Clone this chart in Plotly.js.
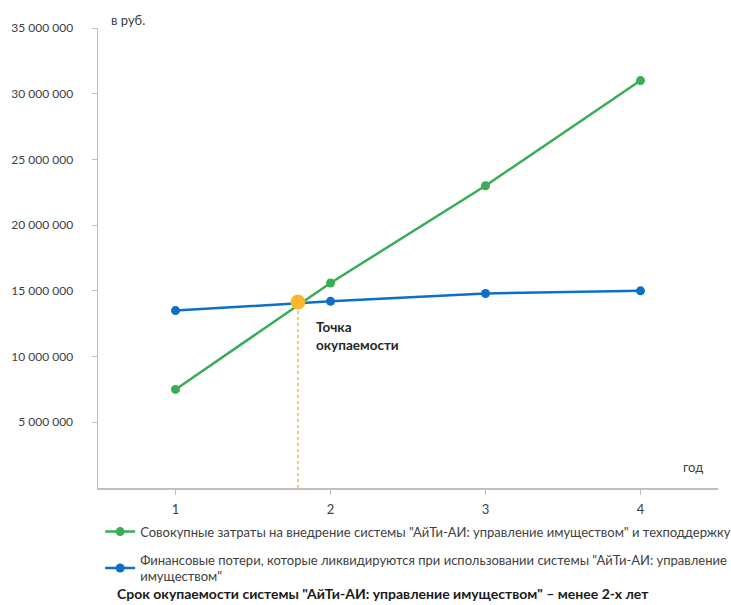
<!DOCTYPE html>
<html>
<head>
<meta charset="utf-8">
<script src="https://cdn.plot.ly/plotly-3.0.1.min.js"></script>
<style>html,body{margin:0;padding:0;background:#fff;}#chart{width:731px;height:605px;}</style>
</head>
<body>
<div id="chart"></div>
<script>
const years = [1, 2, 3, 4];
const yearLabels = ["1", "2", "3", "4"];
const totalCosts = [7500000, 15600000, 23000000, 31000000];
const financialLosses = [13500000, 14200000, 14800000, 15000000];
const breakEvenX = [1.79];
const breakEvenY = [14150000];
const yTickVals = [5000000, 10000000, 15000000, 20000000, 25000000, 30000000, 35000000];

const seriesNames = [
  "Совокупные затраты на внедрение системы \"АйТи-АИ: управление имуществом\" и техподдержку",
  "Финансовые потери, которые ликвидируются при использовании системы \"АйТи-АИ: управление<br>имуществом\""
];
const labelBreakEven = "<b>Точка<br>окупаемости</b>";
const labelY = "в руб.";
const labelX = "год";
const footer = "<b>Срок окупаемости системы \"АйТи-АИ: управление имуществом\" – менее 2-х лет</b>";

const FONT = "Lato, 'Open Sans', sans-serif";
const green = "#3aac55";
const blue = "#0e70c4";
const orange = "#fbb72c";

const traces = [
  {x: years, y: totalCosts, name: seriesNames[0], legendgroup: "a", mode: "lines+markers", type: "scatter",
   line: {color: green, width: 2.5}, marker: {color: green, size: 9}},
  {x: years, y: financialLosses, name: seriesNames[1], legendgroup: "b", mode: "lines+markers", type: "scatter",
   line: {color: blue, width: 2.5}, marker: {color: blue, size: 9}},
  {x: breakEvenX, y: breakEvenY, mode: "markers", type: "scatter", showlegend: false, hoverinfo: "skip",
   marker: {color: orange, size: 15, symbol: "circle"}}
];

const layout = {
  width: 731, height: 605,
  margin: {l: 98, r: 13, t: 28, b: 117, autoexpand: false},
  paper_bgcolor: "#fff", plot_bgcolor: "#fff",
  separators: ". ",
  font: {family: FONT, size: 11, color: "#404040"},
  showlegend: true,
  legend: {xref: "container", yref: "container", x: 0.137, xanchor: "left", y: 0.146, yanchor: "top",
           orientation: "v", traceorder: "grouped",
           font: {family: FONT, size: 13, color: "#404040"}, tracegroupgap: 8, bgcolor: "rgba(0,0,0,0)"},
  xaxis: {range: [0.5, 4.5], tickvals: years, ticktext: yearLabels, showgrid: false, zeroline: false,
          showline: true, linecolor: "#bfbfbf", linewidth: 1.5, ticks: "outside", ticklen: 5,
          tickcolor: "#bfbfbf", ticklabelstandoff: 4, tickfont: {family: FONT, size: 13, color: "#404040"}},
  yaxis: {range: [0, 35000000], tickvals: yTickVals, tickformat: ",.0f", showgrid: false, zeroline: false,
          showline: true, linecolor: "#bfbfbf", linewidth: 1.5, ticks: "outside", ticklen: 5,
          tickcolor: "#bfbfbf", ticklabelstandoff: 16, tickfont: {family: FONT, size: 12, color: "#404040"}},
  shapes: [
    {type: "line", xref: "x", yref: "y", x0: breakEvenX[0], x1: breakEvenX[0], y0: 0, y1: breakEvenY[0],
     line: {color: orange, width: 1.5, dash: "dot"}, layer: "below"}
  ],
  annotations: [
    {xref: "x", yref: "y", x: breakEvenX[0], y: breakEvenY[0], text: labelBreakEven, showarrow: false,
     xanchor: "left", yanchor: "top", xshift: 16, yshift: -15, align: "left",
     font: {family: FONT, size: 13.5, color: "#262626"}},
    {xref: "paper", yref: "paper", x: 0.018, y: 1.0, text: labelY, showarrow: false,
     xanchor: "left", yanchor: "bottom", yshift: -2, font: {family: FONT, size: 13, color: "#404040"}},
    {xref: "paper", yref: "paper", x: 0.979, y: 0.046, text: labelX, showarrow: false,
     xanchor: "right", yanchor: "middle", font: {family: FONT, size: 13, color: "#404040"}},
    {xref: "paper", yref: "paper", x: 0.027, y: -0.229, text: footer, showarrow: false,
     xanchor: "left", yanchor: "middle", font: {family: FONT, size: 14, color: "#1a1a1a"}}
  ]
};

Plotly.newPlot("chart", traces, layout, {displayModeBar: false, staticPlot: true});
</script>
</body>
</html>
